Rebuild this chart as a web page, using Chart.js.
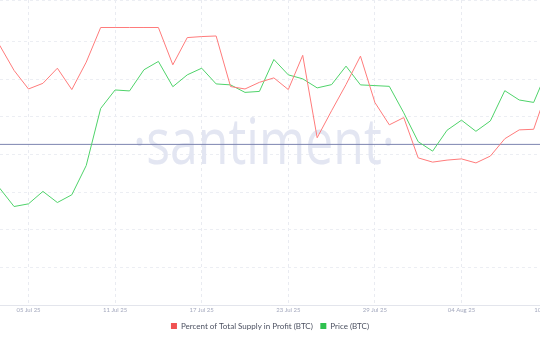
<!DOCTYPE html>
<html>
<head>
<meta charset="utf-8">
<script src="https://cdn.jsdelivr.net/npm/chart.js@4"></script>
<style>
  html, body { margin: 0; padding: 0; background: #fff; overflow: hidden; }
  #wrap { position: absolute; left: -30px; top: 0; width: 600px; height: 340px; }
</style>
</head>
<body>
<div id="wrap"><canvas id="chart" width="600" height="340"></canvas></div>
<script>
// one point per day, 03 Jul 25 .. 10 Aug 25
const dates = [
  '03 Jul 25', '04 Jul 25', '05 Jul 25', '06 Jul 25', '07 Jul 25', '08 Jul 25', '09 Jul 25',
  '10 Jul 25', '11 Jul 25', '12 Jul 25', '13 Jul 25', '14 Jul 25', '15 Jul 25', '16 Jul 25',
  '17 Jul 25', '18 Jul 25', '19 Jul 25', '20 Jul 25', '21 Jul 25', '22 Jul 25', '23 Jul 25',
  '24 Jul 25', '25 Jul 25', '26 Jul 25', '27 Jul 25', '28 Jul 25', '29 Jul 25', '30 Jul 25',
  '31 Jul 25', '01 Aug 25', '02 Aug 25', '03 Aug 25', '04 Aug 25', '05 Aug 25', '06 Aug 25',
  '07 Aug 25', '08 Aug 25', '09 Aug 25', '10 Aug 25'
];

const supplyInProfit = [
  99.12, 97.87, 96.95, 97.23, 97.98, 96.92, 98.28, 100.0, 100.0, 100.0,
  100.0, 100.0, 98.15, 99.50, 99.55, 99.58, 97.07, 96.95, 97.28, 97.50,
  96.92, 98.62, 94.53, 95.87, 97.17, 98.58, 96.28, 95.17, 95.53, 93.53,
  93.32, 93.42, 93.48, 93.28, 93.62, 94.48, 94.92, 94.95, 97.02
];

const priceBtc = [
  109340, 107820, 108040, 109070, 108150, 108790, 111210, 115930, 117460, 117380,
  119130, 119820, 117730, 118710, 119260, 117960, 117880, 117260, 117340, 119980,
  118710, 118380, 117630, 117900, 119430, 117880, 117820, 117760, 115570, 113180,
  112400, 114130, 114960, 114040, 114900, 117400, 116630, 116430, 119230
];

const tickLabels = ['05 Jul 25', '11 Jul 25', '17 Jul 25', '23 Jul 25', '29 Jul 25', '04 Aug 25', '10 Aug 25'];

const refLevel = 94.2; // flat reference line, on the supply axis

const toPoints = arr => arr.map((v, i) => ({ x: i, y: v }));

const backdrop = {
  id: 'backdrop',
  beforeDatasetsDraw(chart) {
    const { ctx, chartArea, scales } = chart;
    const mark = '\u00B7santiment\u00B7';
    ctx.save();
    ctx.font = '400 64px "Open Sans"';
    ctx.fillStyle = '#e3e6f2';
    ctx.textAlign = 'center';
    ctx.textBaseline = 'alphabetic';
    // squeeze the watermark to the narrower face of the original
    const sx = 262 / ctx.measureText(mark).width;
    ctx.translate(294, 164);
    ctx.scale(sx, 1);
    ctx.fillText(mark, 0, 0);
    ctx.restore();

    const y = scales.y.getPixelForValue(refLevel);
    ctx.save();
    ctx.strokeStyle = '#7d84b0';
    ctx.lineWidth = 1;
    ctx.beginPath();
    ctx.moveTo(chartArea.left, y);
    ctx.lineTo(chartArea.right, y);
    ctx.stroke();
    ctx.restore();
  }
};

Chart.defaults.font.family = 'Lato';

const ctx = document.getElementById('chart').getContext('2d');
window.chart = new Chart(ctx, {
  type: 'line',
  data: {
    datasets: [{
      label: 'Percent of Total Supply in Profit (BTC)',
      data: toPoints(supplyInProfit),
      borderColor: '#ff7b7b',
      backgroundColor: '#f05252',
      borderWidth: 1,
      pointRadius: 0,
      yAxisID: 'y'
    }, {
      label: 'Price (BTC)',
      data: toPoints(priceBtc),
      borderColor: '#4fd36a',
      backgroundColor: '#2fc14f',
      borderWidth: 1,
      pointRadius: 0,
      yAxisID: 'y1'
    }]
  },
  options: {
    responsive: false,
    animation: false,
    devicePixelRatio: 1,
    layout: { padding: 0 },
    plugins: {
      tooltip: { enabled: false },
      legend: {
        position: 'bottom',
        labels: {
          boxWidth: 6,
          boxHeight: 6,
          padding: 7.5,
          color: '#4b5060',
          font: { size: 8 },
          generateLabels(chart) {
            const items = Chart.defaults.plugins.legend.labels.generateLabels(chart);
            items.forEach(it => { it.lineWidth = 0; });
            return items;
          }
        }
      }
    },
    scales: {
      x: {
        type: 'linear',
        min: -2.053,
        max: 39.518,
        afterBuildTicks(scale) {
          scale.ticks = tickLabels.map(l => ({ value: dates.indexOf(l) }));
        },
        ticks: {
          autoSkip: false,
          maxRotation: 0,
          padding: 1,
          color: '#a3a8bd',
          font: { size: 6 },
          callback: v => dates[v]
        },
        grid: { color: '#e9ebf1', drawTicks: false },
        border: { display: true, color: '#e3e5ec', dash: [3, 3] }
      },
      g: {
        position: 'left',
        min: 0,
        max: 8.1,
        ticks: { display: false, stepSize: 1 },
        grid: { color: '#eceef3', drawTicks: false },
        border: { display: false, dash: [3, 3] }
      },
      y: { display: false, min: 86.215, max: 101.365 },
      y1: { display: false, min: 99650, max: 124900 }
    }
  },
  plugins: [backdrop]
});
</script>
</body>
</html>
